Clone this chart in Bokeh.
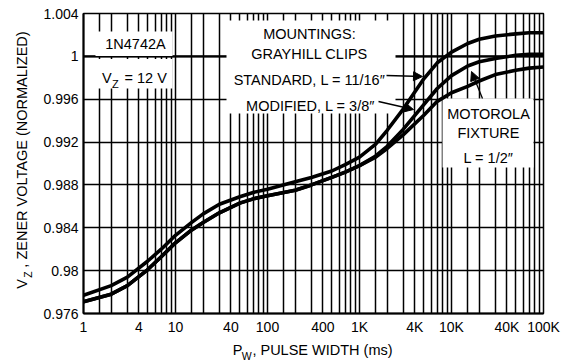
import math
from bokeh.plotting import figure
from bokeh.models import (Range1d, FixedTicker, Span, BoxAnnotation, Label,
                          Arrow, NormalHead, LinearAxis, LogAxis)
from bokeh.embed import file_html
from bokeh.resources import INLINE

# ---------------- data ----------------
PULSE_MS = [1, 2, 3, 5, 7, 10, 15, 20, 30, 50, 70, 100, 200, 300, 500, 700,
            1000, 1500, 2000, 3000, 5000, 7000, 10000, 15000, 20000, 30000,
            50000, 70000, 100000]
VZ_STANDARD = [0.9777, 0.9786, 0.9794, 0.9809, 0.9820, 0.9833, 0.9845, 0.9853,
               0.9862, 0.9869, 0.9873, 0.9876, 0.9883, 0.9887, 0.9893, 0.9899,
               0.9906, 0.9918, 0.9931, 0.9951, 0.9979, 0.9994, 1.0004, 1.0012,
               1.0016, 1.0019, 1.0021, 1.0022, 1.0022]
VZ_MODIFIED = [0.9771, 0.9778, 0.9786, 0.9801, 0.9813, 0.9826, 0.9838, 0.9845,
               0.9854, 0.9863, 0.9867, 0.9870, 0.9875, 0.9880, 0.9887, 0.9892,
               0.9898, 0.9907, 0.9916, 0.9932, 0.9955, 0.9970, 0.9982, 0.9991,
               0.9995, 0.9998, 1.0001, 1.0002, 1.0002]
VZ_MOTOROLA = [0.9771, 0.9778, 0.9786, 0.9801, 0.9813, 0.9826, 0.9838, 0.9845,
               0.9854, 0.9863, 0.9867, 0.9870, 0.9875, 0.9880, 0.9887, 0.9892,
               0.9898, 0.9906, 0.9914, 0.9927, 0.9945, 0.9958, 0.9966, 0.9972,
               0.9977, 0.9983, 0.9987, 0.9989, 0.9990]

X_TICKS = [1, 4, 10, 40, 100, 400, 1000, 4000, 10000, 40000, 100000]
X_TICK_LABELS = ["1", "4", "10", "40", "100", "400", "1K", "4K", "10K", "40K", "100K"]
Y_TICKS = [0.976, 0.98, 0.984, 0.988, 0.992, 0.996, 1.0, 1.004]
Y_TICK_LABELS = ["0.976", "0.98", "0.984", "0.988", "0.992", "0.996", "1", "1.004"]
GRID_MANTISSAS = [1, 1.5, 2, 3, 4, 5, 6, 7, 8, 9]
GRID_DECADES = [1, 10, 100, 1000, 10000]
X_MIN, X_MAX = 1, 100000
Y_MIN, Y_MAX = 0.976, 1.004

FONT = "Liberation Sans"

# frame position in the picture (pixels)
FRAME_L, FRAME_T, FRAME_W, FRAME_H = 83, 13, 460, 300
CANVAS_W, CANVAS_H = 568, 364

p = figure(width=CANVAS_W, height=CANVAS_H, x_axis_type="log",
           x_range=Range1d(X_MIN, X_MAX), y_range=Range1d(Y_MIN, Y_MAX),
           min_border_left=FRAME_L, min_border_top=FRAME_T,
           min_border_right=CANVAS_W - FRAME_L - FRAME_W,
           min_border_bottom=CANVAS_H - FRAME_T - FRAME_H,
           output_backend="svg", toolbar_location=None)
p.background_fill_color = "white"
p.border_fill_color = "white"
p.outline_line_color = "black"
p.outline_line_width = 1.5


def ax(px):
    return 10 ** (math.log10(X_MAX / X_MIN) * (px - FRAME_L) / FRAME_W)


def ay(py):
    return Y_MIN + (Y_MAX - Y_MIN) * (FRAME_T + FRAME_H - py) / FRAME_H


# axes
p.xaxis.ticker = FixedTicker(ticks=X_TICKS, minor_ticks=[])
p.xaxis.major_label_overrides = dict(zip(X_TICKS, X_TICK_LABELS))
p.yaxis.ticker = FixedTicker(ticks=Y_TICKS, minor_ticks=[])
p.yaxis.major_label_overrides = dict(zip(Y_TICKS, Y_TICK_LABELS))
for a in (p.xaxis, p.yaxis):
    a.major_tick_in = 0
    a.major_tick_out = 0
    a.minor_tick_line_color = None
    a.axis_line_width = 2
    a.axis_line_color = "black"
    a.major_label_text_font = FONT
    a.major_label_text_font_size = "14px"
    a.major_label_text_color = "black"
    a.major_label_standoff = 5

# grid
grid_x = [m * d for d in GRID_DECADES for m in GRID_MANTISSAS] + [X_MAX]
p.xgrid.ticker = FixedTicker(ticks=grid_x, minor_ticks=[])
p.ygrid.ticker = FixedTicker(ticks=Y_TICKS, minor_ticks=[])
for g in (p.xgrid, p.ygrid):
    g.grid_line_color = "black"
    g.grid_line_width = 1.5
    g.grid_line_alpha = 1.0

# heavy reference line at 1.0
p.add_layout(Span(location=1.0, dimension="width", line_color="black",
                  line_width=2.4, level="underlay"))

# white label boxes hiding the grid
boxes = [
    (95, 172, 31, 55.5),     # 1N4742A
    (95, 172, 58.5, 88),     # VZ = 12 V
    (226, 395, 20, 113),     # mountings
    (442, 533, 98, 167),     # motorola fixture
]
for l, r, t, b in boxes:
    p.add_layout(BoxAnnotation(left=ax(l), right=ax(r), top=ay(t), bottom=ay(b),
                               fill_color="white", fill_alpha=1.0,
                               line_color=None, level="underlay"))

# curves
for ys in (VZ_MOTOROLA, VZ_MODIFIED, VZ_STANDARD):
    p.line(PULSE_MS, ys, line_color="black", line_width=3.6,
           line_join="round", line_cap="round")


def label(px, py, text, size="14.5px", align="center"):
    p.add_layout(Label(x=ax(px), y=ay(py), text=text, text_font=FONT,
                       text_font_size=size, text_color="black",
                       text_align=align, text_baseline="middle"))


label(135, 43, "1N4742A")
label(101.5, 77, "V", align="left")
label(111.5, 83, "Z", size="11px", align="left")
label(124, 77, "= 12 V", align="left")

label(309, 33, "MOUNTINGS:")
label(309, 53, "GRAYHILL CLIPS")
label(309, 79, "STANDARD, L = 11/16\u2033")
label(310, 105, "MODIFIED, L = 3/8\u2033")

label(488, 113.5, "MOTOROLA")
label(488, 132.5, "FIXTURE")
label(488, 157, "L = 1/2\u2033")


# axis titles with subscripts: extra label-only axes outside the frame
def text_axis(side, positions, texts, size, standoff):
    axis = LogAxis() if side == "below" else LinearAxis()
    axis.ticker = FixedTicker(ticks=positions, minor_ticks=[])
    axis.major_label_overrides = dict(zip(positions, texts))
    axis.axis_line_color = None
    axis.major_tick_line_color = None
    axis.minor_tick_line_color = None
    axis.major_tick_in = 0
    axis.major_tick_out = 0
    axis.major_label_text_font = FONT
    axis.major_label_text_font_size = size
    axis.major_label_text_color = "black"
    axis.major_label_standoff = standoff
    if side == "left":
        axis.major_label_orientation = "vertical"
    p.add_layout(axis, side)


text_axis("below", [ax(237), ax(322)], ["P", ", PULSE WIDTH (ms)"], "14.5px", 4)
text_axis("below", [ax(246.2)], ["W"], "10.5px", -11)

text_axis("left", [ay(274)], ["Z"], "10.5px", 7)
text_axis("left", [ay(283.5), ay(149)], ["V", ", ZENER VOLTAGE (NORMALIZED)"],
          "14.5px", -11)

# leader arrows
for (x0, y0, x1, y1) in [(386, 75, 422, 76), (378, 101, 413, 109),
                         (482, 98, 471, 71)]:
    p.add_layout(Arrow(x_start=ax(x0), y_start=ay(y0), x_end=ax(x1), y_end=ay(y1),
                       line_color="black", line_width=1.3,
                       end=NormalHead(size=9, fill_color="black",
                                      line_color="black")))

open("out.html", "w").write(file_html(p, INLINE))
